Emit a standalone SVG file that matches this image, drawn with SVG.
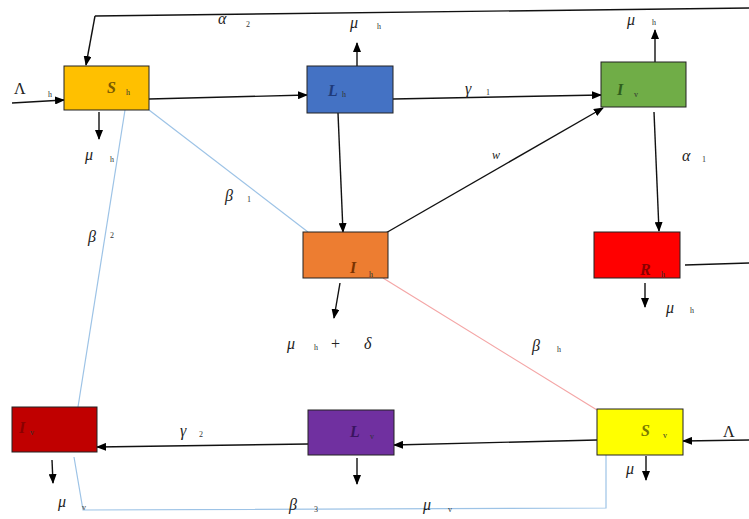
<svg xmlns="http://www.w3.org/2000/svg" width="749" height="519" viewBox="0 0 749 519">
<defs>
<marker id="ah" markerWidth="10" markerHeight="8" refX="9" refY="4" orient="auto" markerUnits="userSpaceOnUse">
<path d="M0,0 L10,4 L0,8 Z" fill="#000"/>
</marker>
</defs>
<style>
.box{stroke:#222;stroke-width:1}
.blk{stroke:#111;stroke-width:1.4;fill:none}
.arr{stroke:#111;stroke-width:1.4;fill:none;marker-end:url(#ah)}
.blue{stroke:#9DC3E6;stroke-width:1.2;fill:none}
.red{stroke:#F4A6A6;stroke-width:1.2;fill:none}
.lbl{font-family:"Liberation Serif",serif;font-style:italic;font-size:16px;fill:#222}
.up{font-family:"Liberation Serif",serif;font-style:normal;font-size:16px;fill:#222}
.sub{font-family:"Liberation Serif",serif;font-size:8px;fill:#333}
.nl{font-family:"Liberation Serif",serif;font-style:italic;font-weight:bold;font-size:16px}
</style>
<rect width="749" height="519" fill="#fff"/>
<g id="connectors">
<polyline class="blk" points="749,8 95,16"/>
<line class="arr" x1="95" y1="16" x2="86" y2="65"/>
<line class="arr" x1="12" y1="103" x2="64" y2="100"/>
<line class="arr" x1="99" y1="112" x2="99" y2="139"/>
<line class="arr" x1="149" y1="99" x2="307" y2="95"/>
<line class="arr" x1="357" y1="67" x2="357" y2="43"/>
<line class="arr" x1="338" y1="113" x2="343" y2="232"/>
<line class="arr" x1="393" y1="99" x2="601" y2="95"/>
<line class="arr" x1="655" y1="62" x2="655" y2="30"/>
<line class="arr" x1="654" y1="112" x2="659" y2="231"/>
<line class="arr" x1="384" y1="234" x2="603" y2="108"/>
<line class="arr" x1="340" y1="283" x2="334" y2="318"/>
<line class="blk" x1="685" y1="265" x2="749" y2="263"/>
<line class="arr" x1="645" y1="283" x2="645" y2="307"/>
<line class="blue" x1="149" y1="110" x2="308" y2="232"/>
<line class="red" x1="383" y1="278" x2="597" y2="410"/>
<line class="blue" x1="125" y1="110" x2="78" y2="407"/>
<polyline class="blue" points="606,455 606,508 83,510 74,457"/>
<line class="arr" x1="749" y1="440" x2="683" y2="441"/>
<line class="arr" x1="646" y1="456" x2="646" y2="480"/>
<line class="arr" x1="597" y1="440" x2="394" y2="445"/>
<line class="arr" x1="308" y1="444" x2="97" y2="447"/>
<line class="arr" x1="357" y1="458" x2="357" y2="484"/>
<line class="arr" x1="52" y1="460" x2="53" y2="483"/>
</g>
<g id="Sh"><rect class="box" x="64" y="66" width="85" height="44" fill="#FFC000"/><text class="nl" x="107" y="93" fill="#7A5A00">S</text><text class="sub" x="126" y="95">h</text></g>
<g id="Lh"><rect class="box" x="307" y="66" width="86" height="47" fill="#4472C4"/><text class="nl" x="328" y="96" fill="#1F3A7A">L</text><text class="sub" x="342" y="97">h</text></g>
<g id="Iv_top"><rect class="box" x="601" y="62" width="85" height="45" fill="#70AD47"/><text class="nl" x="617" y="95" fill="#2E5E1C">I</text><text class="sub" x="634" y="97">v</text></g>
<g id="Ih"><rect class="box" x="303" y="232" width="85" height="46" fill="#ED7D31"/><text class="nl" x="350" y="273" fill="#7A3300">I</text><text class="sub" x="369" y="277">h</text></g>
<g id="Rh"><rect class="box" x="594" y="232" width="86" height="46" fill="#FF0000"/><text class="nl" x="640" y="275" fill="#8B0000">R</text><text class="sub" x="661" y="277">h</text></g>
<g id="Sv"><rect class="box" x="597" y="409" width="86" height="46" fill="#FFFF00"/><text class="nl" x="641" y="436" fill="#7A7A00">S</text><text class="sub" x="663" y="438">v</text></g>
<g id="Lv"><rect class="box" x="308" y="410" width="86" height="45" fill="#7030A0"/><text class="nl" x="350" y="437" fill="#3A1460">L</text><text class="sub" x="370" y="439">v</text></g>
<g id="Iv_bottom"><rect class="box" x="12" y="407" width="85" height="45" fill="#C00000"/><text class="nl" x="19" y="433" fill="#8A0000">I</text><text class="sub" x="30" y="435" fill="#8A0000">v</text></g>
<g id="labels">
<text class="lbl" x="218" y="24">α</text><text class="sub" x="246" y="27">2</text>
<text class="up" x="14" y="94">Λ</text><text class="sub" x="48" y="97">h</text>
<text class="lbl" x="85" y="160">μ</text><text class="sub" x="110" y="162">h</text>
<text class="lbl" x="350" y="28">μ</text><text class="sub" x="377" y="29">h</text>
<text class="lbl" x="627" y="25">μ</text><text class="sub" x="652" y="25">h</text>
<text class="lbl" x="465" y="94">γ</text><text class="sub" x="486" y="95">1</text>
<text class="lbl" x="492" y="159" style="font-size:12px">w</text>
<text class="lbl" x="682" y="161">α</text><text class="sub" x="702" y="162">1</text>
<text class="lbl" x="225" y="201">β</text><text class="sub" x="247" y="202">1</text>
<text class="lbl" x="88" y="242">β</text><text class="sub" x="110" y="238">2</text>
<text class="lbl" x="287" y="349">μ</text><text class="sub" x="314" y="350">h</text><text class="up" x="331" y="349">+</text><text class="lbl" x="364" y="349">δ</text>
<text class="lbl" x="532" y="351">β</text><text class="sub" x="557" y="352">h</text>
<text class="lbl" x="666" y="313">μ</text><text class="sub" x="690" y="313">h</text>
<text class="up" x="723" y="437">Λ</text>
<text class="lbl" x="626" y="474">μ</text>
<text class="lbl" x="180" y="436">γ</text><text class="sub" x="199" y="437">2</text>
<text class="lbl" x="289" y="510">β</text><text class="sub" x="314" y="512">3</text>
<text class="lbl" x="423" y="510">μ</text><text class="sub" x="448" y="512">v</text>
<text class="lbl" x="58" y="507">μ</text><text class="sub" x="82" y="510">v</text>
</g>
</svg>
